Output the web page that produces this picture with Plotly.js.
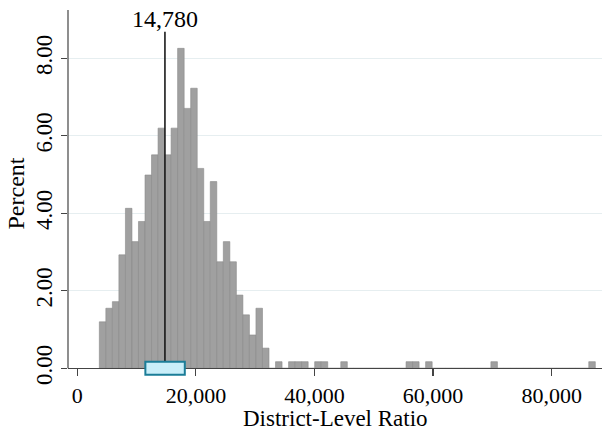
<!DOCTYPE html>
<html>
<head>
<meta charset="utf-8">
<script src="https://cdn.plot.ly/plotly-3.0.1.min.js"></script>
<style>html,body{margin:0;padding:0;background:#fff;}#chart{width:602px;height:432px;}</style>
</head>
<body>
<div id="chart"></div>
<script>
// ---- data ----
const binStart = 3715;      // left edge of first bin (District-Level Ratio)
const binWidth = 1100.6;    // bin width
const percent = [
  1.20, 1.55, 1.72, 2.93, 4.13, 3.27, 3.79, 4.99, 5.51, 6.20,
  5.51, 6.20, 8.26, 6.71, 7.23, 5.16, 3.79, 4.82, 2.75, 3.27,
  2.75, 1.89, 1.38, 0.86, 1.55, 0.52, 0.00, 0.17, 0.00, 0.17,
  0.17, 0.17, 0.00, 0.17, 0.17, 0.00, 0.00, 0.17, 0.00, 0.00,
  0.00, 0.00, 0.00, 0.00, 0.00, 0.00, 0.00, 0.17, 0.17, 0.00,
  0.17, 0.00, 0.00, 0.00, 0.00, 0.00, 0.00, 0.00, 0.00, 0.00,
  0.17, 0.00, 0.00, 0.00, 0.00, 0.00, 0.00, 0.00, 0.00, 0.00,
  0.00, 0.00, 0.00, 0.00, 0.00, 0.17
];
const medianValue = 14780;
const medianLabel = "14,780";
const q1 = 11480;
const q3 = 18130;
const xTickVals = [0, 20000, 40000, 60000, 80000];
const yTickVals = [0, 2, 4, 6, 8];
const xTitle = 'District-Level Ratio';
const yTitle = 'Percent';

// ---- derived ----
const binCenters = percent.map((_, i) => binStart + (i + 0.5) * binWidth);
const FONT = "'Liberation Serif', 'Times New Roman', serif";
const yTop = 9.25, yBottom = -0.225;
const lineTop = 8.69;
const boxHalf = 0.17;

const traces = [
  {
    type: 'bar',
    x: binCenters,
    y: percent,
    width: binWidth,
    marker: {color: '#a0a0a0', line: {color: '#8a8a8a', width: 0.6}},
    hoverinfo: 'skip'
  },
  {
    type: 'scatter',
    mode: 'lines',
    x: [medianValue, medianValue],
    y: [0, lineTop],
    line: {color: '#1a1a1a', width: 1.6},
    hoverinfo: 'skip'
  }
];

const layout = {
  width: 602,
  height: 432,
  margin: {l: 68, r: 0, t: 10, b: 55},
  paper_bgcolor: '#ffffff',
  plot_bgcolor: '#ffffff',
  showlegend: false,
  bargap: 0,
  font: {family: FONT, size: 23, color: '#000'},
  xaxis: {
    range: [-1568, 88490],
    tickvals: xTickVals,
    tickformat: ',d',
    ticks: 'outside',
    ticklen: 7,
    tickwidth: 1.2,
    tickcolor: '#444',
    showgrid: false,
    zeroline: false,
    showline: true,
    linecolor: '#444',
    linewidth: 1.2,
    anchor: 'free',
    position: (0 - yBottom) / (yTop - yBottom),
    tickfont: {family: FONT, size: 22, color: '#000'}
  },
  yaxis: {
    range: [yBottom, yTop],
    tickvals: yTickVals,
    tickformat: '.2f',
    tickangle: -90,
    ticks: 'outside',
    ticklen: 6,
    tickwidth: 1.2,
    tickcolor: '#444',
    ticklabelstandoff: 0,
    showgrid: true,
    gridcolor: '#e6eef0',
    gridwidth: 1,
    zeroline: false,
    showline: false,
    tickfont: {family: FONT, size: 23, color: '#000'},
    title: {text: yTitle, font: {family: FONT, size: 24, color: '#000'}, standoff: 0}
  },
  shapes: [
    {type: 'line', xref: 'paper', x0: 0, x1: 0, yref: 'y', y0: 0, y1: yTop,
     line: {color: '#444', width: 1.2}, layer: 'above'},
    {type: 'rect', xref: 'x', yref: 'y', x0: q1, x1: q3, y0: -boxHalf, y1: boxHalf,
     fillcolor: '#c9eef9', line: {color: '#1b7d98', width: 2}, layer: 'above'}
  ],
  annotations: [
    {x: medianValue, y: lineTop, xref: 'x', yref: 'y', text: medianLabel,
     showarrow: false, yanchor: 'bottom', xanchor: 'center', yshift: -2,
     font: {family: FONT, size: 24, color: '#000'}},
    {x: 0.5, y: -55 / 367, xref: 'paper', yref: 'paper', text: xTitle,
     showarrow: false, yanchor: 'bottom', xanchor: 'center', yshift: 0, borderpad: 0,
     font: {family: FONT, size: 23, color: '#000'}}
  ]
};

Plotly.newPlot('chart', traces, layout, {displayModeBar: false, staticPlot: true});
</script>
</body>
</html>
